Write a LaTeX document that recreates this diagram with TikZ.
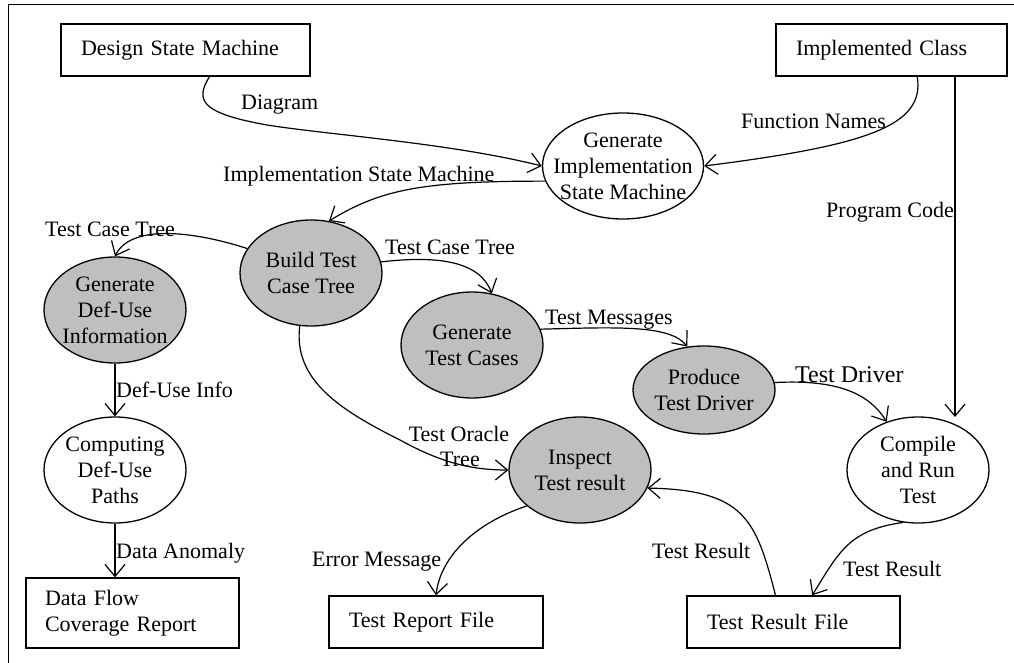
\documentclass[tikz,border=0pt]{standalone}
\usepackage{fontspec}
\setmainfont{Liberation Serif}
\usetikzlibrary{arrows.meta,shapes.geometric}
\tikzset{
  txt/.style={font=\fontsize{22}{26}\selectfont, inner sep=0pt},
  store/.style={draw, rectangle, line width=1.3pt, inner ysep=0pt, minimum height=52pt,
    align=left, font=\fontsize{22}{26}\selectfont},
  proc/.style={draw, ellipse, line width=1.3pt, inner sep=0pt,
    minimum width=142pt, minimum height=106pt},
  active/.style={proc, fill=black!25},
  ptext/.style={txt, align=center},
  flow/.style={line width=1.2pt, -{Straight Barb[length=12pt,width=20pt,line width=1.2pt]}},
  lbl/.style={txt, anchor=base west},
}
\begin{document}
\begin{tikzpicture}[x=1pt,y=-1pt]
\useasboundingbox (0,0) rectangle (1014,663);
% page frame
\draw[line width=1pt] (8,663) -- (8,5) -- (1014,5);

% external entities and files
\node[store, text width=209pt, inner xsep=20pt] (dsm) at (185.5,50) {Design State Machine};
\node[store, text width=191pt, inner xsep=20pt] (ic) at (891.5,50) {Implemented Class};
\node[store, text width=175pt, inner xsep=19pt, minimum height=70pt] (dfc) at (132.5,613) {Data Flow\\Coverage Report};
\node[store, text width=174pt, inner xsep=20pt] (trf) at (436,622) {Test Report File};
\node[store, text width=173pt, inner xsep=20pt] (tres) at (793.5,622) {Test Result File};

% processes
\node[proc, minimum width=161pt] (gi) at (623,166) {};
\node[ptext] (gi-t) at (gi) {Generate\\Implementation\\State Machine};
\node[active] (bt) at (311,273) {};
\node[ptext] (bt-t) at (bt) {Build Test\\Case Tree};
\node[active] (gdu) at (115,310) {};
\node[ptext] (gdu-t) at (gdu) {Generate\\Def-Use\\Information};
\node[active] (gtc) at (472,345) {};
\node[ptext] (gtc-t) at (gtc) {Generate\\Test Cases};
\node[active, minimum height=88pt] (ptd) at (704,390) {};
\node[ptext] (ptd-t) at (ptd) {Produce\\Test Driver};
\node[active] (insp) at (580,470) {};
\node[ptext] (insp-t) at (insp) {Inspect\\Test result};
\node[proc] (cr) at (918,470) {};
\node[ptext] (cr-t) at (cr) {Compile\\and Run\\Test};
\node[proc] (cdu) at (115,470) {};
\node[ptext] (cdu-t) at (cdu) {Computing\\Def-Use\\Paths};

% data flows
\draw[flow] (dsm.-48) .. controls (195,100) and (200,113) .. (267,125)
  .. controls (330,135) and (450,143) .. (gi.west);
\draw[flow] (ic.-46) .. controls (925,125) and (870,145) .. (gi.east);
\coordinate (pctip) at (955,417);
\draw[flow] (ic.south -| pctip) -- (pctip);
\draw[flow] (gi.191) .. controls (420,181) and (380,190) .. (bt.71);
\draw[flow] (bt.159) .. controls (190,230) and (130,225) .. (gdu.north);
\draw[flow] (bt.9) .. controls (440,255) and (480,262) .. (gtc.69);
\draw[flow] (gtc.13) .. controls (620,327) and (670,325) .. (ptd.111);
\draw[flow] (ptd.6) .. controls (840,379) and (870,395) .. (cr.123);
\draw[flow] (bt.258) .. controls (293,380) and (340,410) .. (400,440)
  .. controls (440,462) and (470,470) .. (insp.west);
\draw[flow] (insp.214) .. controls (470,525) and (440,560) .. (trf.north);
\draw[flow] (tres.124) .. controls (756,520) and (745,490) .. (insp.-15);
\draw[flow] (cr.254) .. controls (850,530) and (840,550) .. (tres.55);
\draw[flow] (gdu.south) -- (cdu.north);
\draw[flow] (cdu.south) -- (cdu.south |- dfc.north);

% flow labels
\node[lbl] (l-diag) at (241,110) {Diagram};
\node[lbl] (l-fn) at (741,129) {Function Names};
\node[lbl] (l-ism) at (223,182) {Implementation State Machine};
\node[lbl] (l-pc) at (826,218) {Program Code};
\node[lbl] (l-tct1) at (45,236) {Test Case Tree};
\node[lbl] (l-tct2) at (385,254) {Test Case Tree};
\node[lbl] (l-tm) at (545,324) {Test Messages};
\node[lbl, font=\fontsize{24}{28}\selectfont] (l-td) at (795,382) {Test Driver};
\node[lbl] (l-dui) at (116,397) {Def-Use Info};
\node[txt, anchor=base] (l-oracle) at (459,441) {Test Oracle};
\node[txt, anchor=base] (l-tree) at (460,466) {Tree};
\node[lbl] (l-da) at (116,558) {Data Anomaly};
\node[lbl] (l-em) at (312,566) {Error Message};
\node[lbl] (l-tr1) at (652,558) {Test Result};
\node[lbl] (l-tr2) at (843,576) {Test Result};
\end{tikzpicture}
\end{document}
